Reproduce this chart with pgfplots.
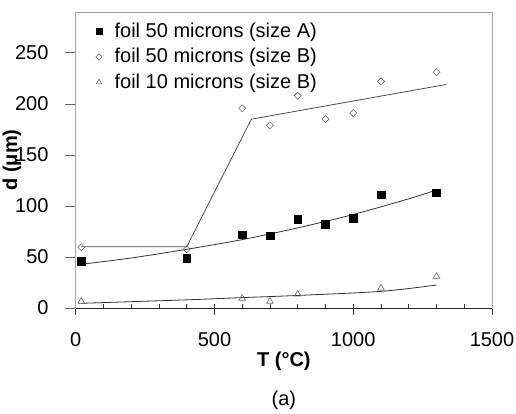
\documentclass[border=0pt]{standalone}
\usepackage{fontspec}
\setmainfont{Liberation Sans}
\usepackage{pgfplots}
\pgfplotsset{compat=1.18}
\begin{document}
\fontsize{19.5}{23}\selectfont
\begin{tikzpicture}[x=1pt,y=1pt]
\begin{axis}[
  name=ax,
  at={(0,0)}, anchor=south west,
  scale only axis, width=416.3pt, height=296pt,
  xmin=0, xmax=1500, ymin=0, ymax=290,
  axis line style={draw=black!35, line width=0.8pt},
  xtick={0,500,1000,1500},
  minor xtick={100,200,300,400,600,700,800,900,1100,1200,1300,1400},
  ytick={0,50,100,150,200,250},
  xtick pos=bottom, ytick pos=left,
  tick align=center,
  major tick length=11pt, minor tick length=4.3pt,
  major x tick style={yshift=-1.2pt, draw=black!80, line width=0.7pt},
  minor x tick style={yshift=2.15pt, draw=black!80, line width=0.7pt},
  major y tick style={xshift=-5.5pt, draw=black!60, line width=0.7pt},
  /pgf/number format/assume math mode=true,
  /pgf/number format/1000 sep={},
  tick label style={font=\fontsize{20}{23}\selectfont},
  xticklabel style={anchor=center, yshift=-26pt},
  yticklabel style={anchor=east, xshift=-15pt},
  xlabel={\textbf{T (°C)}},
  ylabel={\textbf{d (μm)}},
  xlabel style={at={(axis description cs:0.5,-0.1814)}, anchor=center},
  ylabel style={at={(axis description cs:-0.153,0.5)}, anchor=center, rotate=0},
  label style={font=\fontsize{20}{23}\selectfont},
  legend style={draw=none, fill=none, at={(axis description cs:0,1)}, anchor=north west,
    xshift=17pt, yshift=-7pt, font=\fontsize{20}{23}\selectfont, row sep=5pt,
    nodes={inner sep=1.5pt},
    /tikz/every odd column/.append style={column sep=11pt}},
  legend cell align=left,
  clip=false,
]
\addplot[only marks, mark=square*, mark size=3.8, black,
  legend image post style={mark size=3}] coordinates {
  (20,46) (400,49) (600,72) (700,71) (800,87) (900,82) (1000,88) (1100,111) (1300,113)};
\addlegendentry{foil 50 microns (size A)}
\addplot[only marks, mark=square, mark size=2.5, mark options={rotate=45, draw=black!60, line width=0.6pt},
  legend image post style={mark size=2.2}] coordinates {
  (20,59.5) (400,57.5) (600,195.7) (700,179) (800,208) (900,185) (1000,191) (1100,222) (1300,231)};
\addlegendentry{foil 50 microns (size B)}
\addplot[only marks, mark=triangle, mark size=3.8, mark options={draw=black!60, line width=0.6pt},
  legend image post style={mark size=3.2}] coordinates {
  (20,6.5) (600,9.5) (700,6.5) (800,13.5) (1100,19.5) (1300,31)};
\addlegendentry{foil 10 microns (size B)}
\addplot[forget plot, smooth, black!80, line width=0.8pt] coordinates {
  (20,42.8) (200,49) (400,57.5) (600,67) (800,78.5) (1000,91.6) (1200,107) (1300,115.6)};
\addplot[forget plot, black!70, line width=0.8pt] coordinates {
  (20,60) (400,60) (633,185) (1335,219)};
\addplot[forget plot, smooth, black!80, line width=0.8pt] coordinates {
  (20,4.6) (400,8) (600,10.2) (800,12.3) (1100,16.3) (1300,22.5)};
\end{axis}
\draw[black!85, line width=0.8pt] (ax.south west) -- (ax.south east);
\node[font=\fontsize{20}{23}\selectfont] at ([yshift=-92pt]ax.south) {(a)};
\pgfresetboundingbox
\path (-75.7,-106) rectangle (440.3,308);
\end{tikzpicture}
\end{document}
